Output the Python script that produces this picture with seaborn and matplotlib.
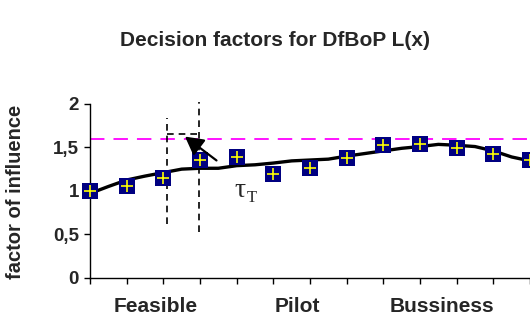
import matplotlib
matplotlib.use("Agg")
import matplotlib.pyplot as plt
import seaborn as sns
import pandas as pd

# ---- data ----
stage_labels = ["Feasible", "Pilot", "Bussiness"]
stage_pos = [1.8, 5.65, 9.6]
point_x = [0, 1, 2, 3, 4, 5, 6, 7, 8, 9, 10, 11, 12]
point_y = [1.00, 1.06, 1.145, 1.36, 1.39, 1.19, 1.26, 1.375, 1.53, 1.54, 1.49, 1.425, 1.36]
trend_x = [0, 0.5, 1, 1.5, 2, 2.5, 3, 3.5, 4, 4.5, 5, 5.5, 6, 6.5, 7, 7.5, 8, 8.5,
           9, 9.5, 10, 10.5, 11, 11.5, 12]
trend_y = [0.97, 1.05, 1.125, 1.17, 1.21, 1.25, 1.26, 1.26, 1.29, 1.30, 1.32, 1.345,
           1.355, 1.365, 1.40, 1.43, 1.46, 1.49, 1.51, 1.535, 1.525, 1.51, 1.46, 1.39, 1.345]
threshold = 1.6
ytick_vals = [0, 0.5, 1, 1.5, 2]
ytick_labels = ["0", "0,5", "1", "1,5", "2"]

sns.set_style("white")
plt.rcParams['font.family'] = ['Liberation Sans', 'DejaVu Sans']

fig = plt.figure(figsize=(5.3, 3.25), dpi=100)
ax = fig.add_axes([90/530, 1-277.7/325, 1-90/530, (277.7-104)/325])

pts = pd.DataFrame({"x": point_x, "y": point_y})
trend = pd.DataFrame({"x": trend_x, "y": trend_y})

# threshold
ax.axhline(threshold, color="#FF00FF", lw=1.3, dashes=(8, 5), zorder=1)

# trend line
sns.lineplot(data=trend, x="x", y="y", ax=ax, color="black", lw=2.4, zorder=3)

# markers
sns.scatterplot(data=pts, x="x", y="y", ax=ax, marker="s", s=125, color="#000080",
                edgecolor="#000080", linewidth=0, zorder=4, clip_on=False)
sns.scatterplot(data=pts, x="x", y="y", ax=ax, marker="+", s=70, color="yellow",
                linewidth=1.2, zorder=5, clip_on=False)

# vertical dashed lines and annotation
ax.plot([2.09, 2.09], [0.62, 1.84], color="black", lw=1.2, dashes=(4, 3), zorder=2)
ax.plot([2.98, 2.98], [0.53, 2.02], color="black", lw=1.2, dashes=(4, 3), zorder=2, clip_on=False)
ax.plot([2.09, 2.98], [1.65, 1.65], color="black", lw=1.2, dashes=(4, 3), zorder=2)
ax.annotate("", xy=(2.59, 1.625), xytext=(3.45, 1.35),
            arrowprops=dict(arrowstyle="-|>,head_length=1.1,head_width=0.6",
                            color="black", lw=1.6, shrinkA=0, shrinkB=0), zorder=6)
ax.text(4.08, 1.0, "τ", fontsize=20, ha="center", va="center",
        family=["Liberation Serif", "DejaVu Serif"])
ax.annotate("T", xy=(4.08, 1.0), xytext=(5, -5), textcoords="offset points",
            fontsize=12, ha="left", va="center", family=["Liberation Serif", "DejaVu Serif"])

ax.set_xlim(0, 12)
ax.set_ylim(0, 2)
ax.set_xticks(point_x)
ax.set_xticklabels([])
ax.set_yticks(ytick_vals)
ax.set_yticklabels(ytick_labels, fontsize=13.5, fontweight="bold")
ax.set_xlabel("")
ax.set_ylabel("")
ax.tick_params(axis="both", direction="out", length=4, width=1, color="black",
               bottom=True, left=True, pad=4)
for s in ["top", "right"]:
    ax.spines[s].set_visible(False)
for s in ["left", "bottom"]:
    ax.spines[s].set_color("black")
    ax.spines[s].set_linewidth(1)

for lab, pos in zip(stage_labels, stage_pos):
    ax.text(pos, -0.11, lab, transform=ax.get_xaxis_transform(), ha="center", va="top",
            fontsize=15, fontweight="bold")

fig.text(16/530, 0.41, "factor of influence", rotation=90, ha="center", va="center",
         fontsize=14.5, fontweight="bold")
fig.text(0.519, 1-40/325, "Decision factors for DfBoP L(x)", ha="center", va="center",
         fontsize=15, fontweight="bold")

fig.savefig("out.png", dpi=100)
